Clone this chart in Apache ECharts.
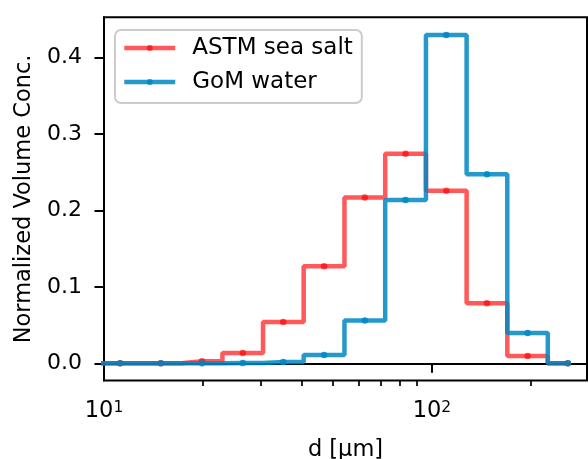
<!DOCTYPE html>
<html>
<head>
<meta charset="utf-8">
<script src="https://cdn.jsdelivr.net/npm/echarts@6/dist/echarts.min.js"></script>
<style>
  html, body { margin: 0; padding: 0; background: #ffffff; }
  #chart { width: 588px; height: 459px; }
</style>
</head>
<body>
<div id="chart"></div>
<script>
// Particle diameter bin centres [µm] (first value lies left of the visible range)
const diameters = [8.45, 11.2, 14.9, 19.9, 26.5, 35.2, 46.9, 62.4, 83.1, 110.6, 147.1, 195.8, 259.8];
// Normalized volume concentrations
const astmSeaSalt = [0, 0, 0, 0.0026, 0.0135, 0.054, 0.1268, 0.2166, 0.274, 0.2257, 0.0784, 0.0096, 0];
const gomWater    = [0, 0, 0, 0, 0.0005, 0.0017, 0.0109, 0.056, 0.2135, 0.429, 0.247, 0.0397, 0];
// Tick values
const xMajorTicks = [10, 100];
const xMinorTicks = [20, 30, 40, 50, 60, 70, 80, 90, 200];
const yTicks = [0, 0.1, 0.2, 0.3, 0.4];
const seriesNames = ['ASTM sea salt', 'GoM water'];

const FONT = 'DejaVu Sans';
const RED = 'rgba(255,0,0,0.65)';
const BLUE = 'rgba(0,135,195,0.85)';

function pairs(xs, ys) { return xs.map((x, i) => [x, ys[i]]); }

const chart = echarts.init(document.getElementById('chart'), null, { renderer: 'canvas' });

function makeSeries(name, values, color) {
  return {
    name: name,
    type: 'line',
    step: 'middle',
    data: pairs(diameters, values),
    symbol: 'circle',
    symbolSize: 6.5,
    showAllSymbol: true,
    clip: true,
    lineStyle: { color: color, width: 4.5 },
    itemStyle: { color: color, borderWidth: 0 },
    emphasis: { disabled: true },
    animation: false
  };
}

chart.setOption({
  animation: false,
  backgroundColor: '#ffffff',
  textStyle: { fontFamily: FONT, color: '#000' },
  grid: {
    left: 104, top: 17.3, right: 1, bottom: 78.5,
    outerBoundsMode: 'none',
    containLabel: false,
    show: true, borderColor: '#000', borderWidth: 2, backgroundColor: 'transparent'
  },
  legend: {
    data: seriesNames,
    orient: 'vertical',
    left: 115, top: 30,
    padding: [5, 9, 8, 7],
    itemWidth: 51, itemHeight: 7.5, itemGap: 8,
    lineStyle: { width: 4.5 },
    backgroundColor: 'rgba(255,255,255,0.8)',
    borderColor: '#cccccc', borderWidth: 2, borderRadius: 6,
    textStyle: { fontFamily: FONT, fontSize: 23, lineHeight: 26, color: '#000', padding: [0, 0, 0, 12] },
    selectedMode: false
  },
  xAxis: [{
    type: 'log', logBase: 10, min: 10, max: 297,
    name: 'd [µm]', nameLocation: 'middle', nameGap: 58,
    nameTextStyle: { fontFamily: FONT, fontSize: 22.5, color: '#000' },
    axisLine: { show: true, lineStyle: { color: '#000', width: 2 } },
    axisTick: { show: true, length: 9.5, lineStyle: { color: '#000', width: 2 }, customValues: xMajorTicks },
    axisLabel: {
      customValues: xMajorTicks,
      margin: 19,
      formatter: function (v) { return '{b|10}{s|' + Math.round(Math.log10(v)) + '}'; },
      rich: {
        b: { fontFamily: FONT, fontSize: 22.5, color: '#000', lineHeight: 24 },
        s: { fontFamily: FONT, fontSize: 15.5, color: '#000', verticalAlign: 'top', lineHeight: 16 }
      }
    },
    splitLine: { show: false }
  }, {
    type: 'log', logBase: 10, min: 10, max: 297, position: 'bottom',
    axisLine: { show: false },
    axisTick: { show: true, length: 5.5, lineStyle: { color: '#000', width: 1.7 }, customValues: xMinorTicks },
    axisLabel: { show: false },
    splitLine: { show: false }
  }],
  yAxis: {
    type: 'value', min: -0.0225, max: 0.4523,
    name: 'Normalized Volume Conc.', nameLocation: 'middle', nameGap: 66,
    nameTextStyle: { fontFamily: FONT, fontSize: 22.5, color: '#000' },
    axisLine: { show: true, lineStyle: { color: '#000', width: 2 } },
    axisTick: { show: true, length: 9.5, lineStyle: { color: '#000', width: 2 }, customValues: yTicks },
    axisLabel: {
      customValues: yTicks, margin: 22,
      fontFamily: FONT, fontSize: 22, color: '#000',
      formatter: function (v) { return v.toFixed(1); }
    },
    splitLine: { show: false }
  },
  series: [
    makeSeries(seriesNames[0], astmSeaSalt, RED),
    makeSeries(seriesNames[1], gomWater, BLUE)
  ]
});
</script>
</body>
</html>
